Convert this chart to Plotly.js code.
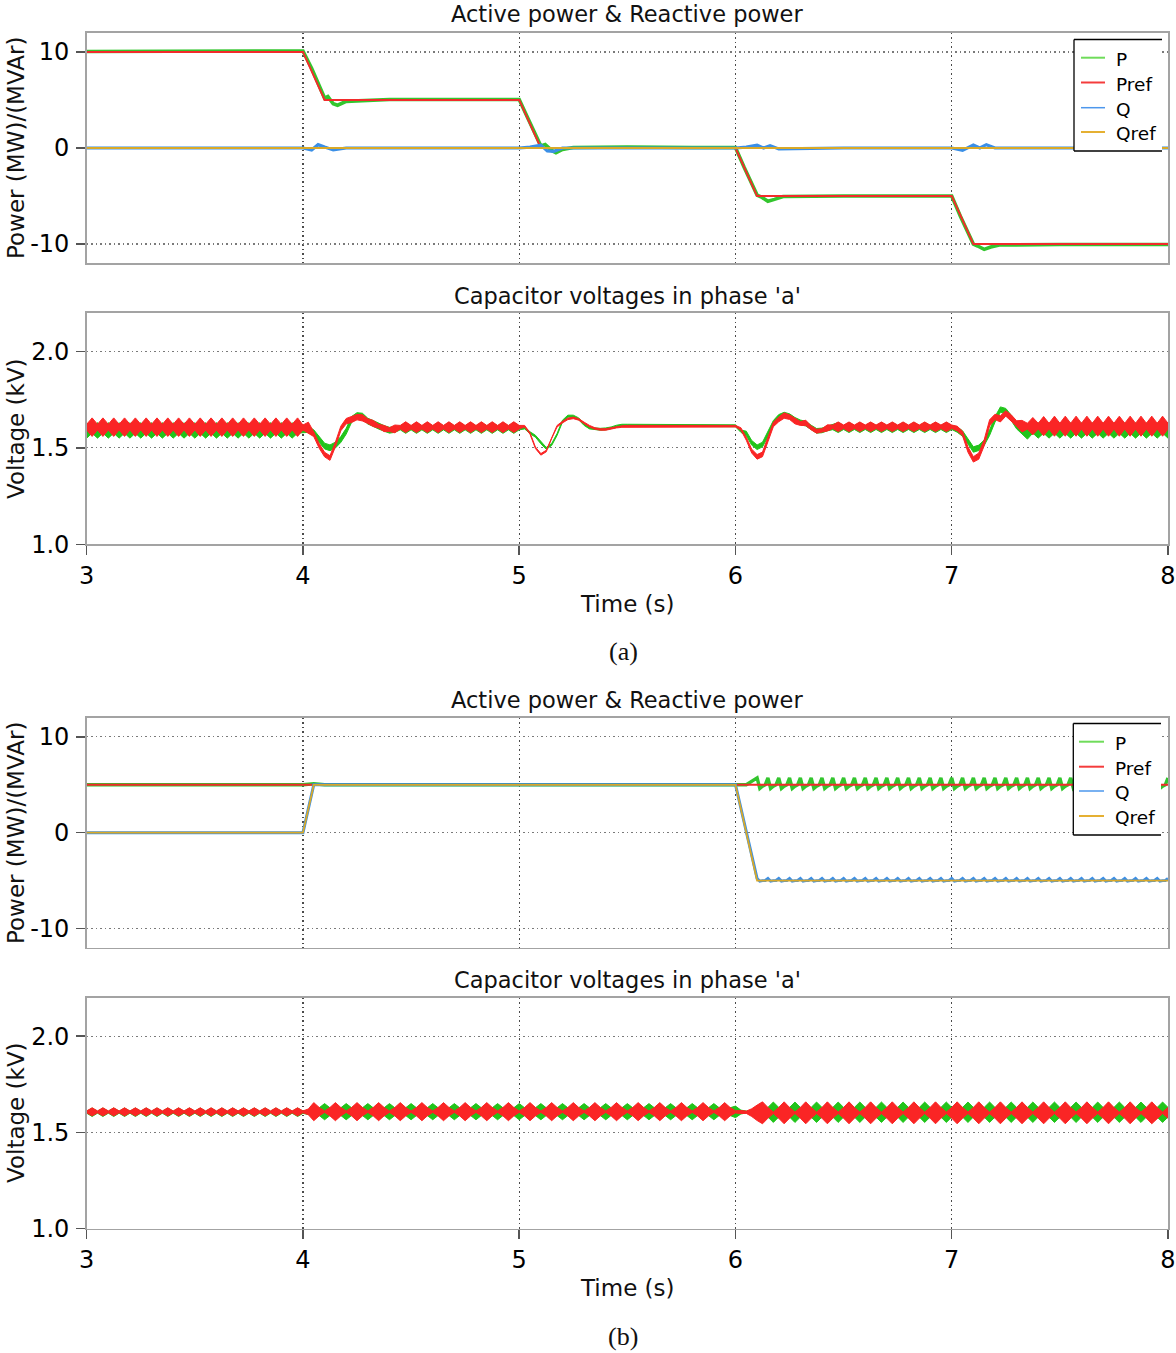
<!DOCTYPE html>
<html><head><meta charset="utf-8">
<script src="https://cdn.plot.ly/plotly-3.0.1.min.js"></script>
<style>html,body{margin:0;padding:0;background:#fff}#chart{width:1176px;height:1353px}</style>
</head><body><div id="chart"></div>
<script>
// ---------------- DATA ----------------
// (a) Active / reactive power
const T_PREF_A = [3, 4, 4.1, 5, 5.1, 6, 6.1, 7, 7.1, 8];
const PREF_A   = [10, 10, 5, 5, 0, 0, -5, -5, -10, -10];
const T_P_A = [3.0,3.5,3.95,4.0,4.04,4.08,4.1,4.115,4.14,4.16,4.2,4.4,4.7,5.0,5.04,5.08,5.1,5.12,5.15,5.17,5.2,5.25,5.5,5.8,6.0,6.04,6.08,6.1,6.12,6.15,6.18,6.22,6.5,6.8,7.0,7.04,7.08,7.1,7.12,7.15,7.18,7.22,7.5,7.8,8.0];
const P_A   = [10.05,10.05,10.05,10.1,8.3,6.2,5.2,5.35,4.6,4.45,4.85,5.05,5.05,5.05,3.1,1.1,0.2,0.35,-0.25,-0.5,-0.15,0.05,0.1,0.05,0.05,-2.0,-4.0,-4.9,-5.1,-5.55,-5.35,-5.05,-5.0,-5.0,-5.0,-7.1,-9.1,-10.0,-10.2,-10.55,-10.3,-10.1,-10.05,-10.05,-10.05];
const T_Q_A = [3.0,3.9,4.0,4.04,4.07,4.1,4.14,4.2,4.5,5.0,5.05,5.1,5.13,5.16,5.2,5.5,6.0,6.05,6.1,6.13,6.16,6.2,6.5,7.0,7.05,7.1,7.13,7.16,7.2,7.5,8.0];
const Q_A   = [0,0,0,-0.2,0.35,0.1,-0.2,0,0,0,0.1,0.3,-0.3,-0.35,0,0,0,0.1,0.3,0,0.25,-0.1,0,0,-0.25,0.3,0,0.35,0,0,0];
const T_QREF_A = [3, 8];
const QREF_A   = [0, 0];

// (b) Active / reactive power
const T_PREF_B = [3, 8];
const PREF_B   = [5, 5];
const T_P_B1 = [3.0, 4.0, 4.05, 4.1, 6.0, 6.05];
const P_B1   = [5.0, 5.0, 5.1, 5.0, 5.0, 5.0];
// P after 6.1 s, sampled every 12.5 ms (ripple spikes)
const P_B2 = [
5.72,4.62,4.85,5.0, 5.72,4.62,4.85,5.0, 5.72,4.62,4.85,5.0, 5.72,4.62,4.85,5.0,
5.72,4.62,4.85,5.0, 5.72,4.62,4.85,5.0, 5.72,4.62,4.85,5.0, 5.72,4.62,4.85,5.0,
5.72,4.62,4.85,5.0, 5.72,4.62,4.85,5.0, 5.72,4.62,4.85,5.0, 5.72,4.62,4.85,5.0,
5.72,4.62,4.85,5.0, 5.72,4.62,4.85,5.0, 5.72,4.62,4.85,5.0, 5.72,4.62,4.85,5.0,
5.72,4.62,4.85,5.0, 5.72,4.62,4.85,5.0, 5.72,4.62,4.85,5.0, 5.72,4.62,4.85,5.0,
5.72,4.62,4.85,5.0, 5.72,4.62,4.85,5.0, 5.72,4.62,4.85,5.0, 5.72,4.62,4.85,5.0,
5.72,4.62,4.85,5.0, 5.72,4.62,4.85,5.0, 5.72,4.62,4.85,5.0, 5.72,4.62,4.85,5.0,
5.72,4.62,4.85,5.0, 5.72,4.62,4.85,5.0, 5.72,4.62,4.85,5.0, 5.72,4.62,4.85,5.0,
5.72,4.62,4.85,5.0, 5.72,4.62,4.85,5.0, 5.72,4.62,4.85,5.0, 5.72,4.62,4.85,5.0,
5.72,4.62,4.85,5.0, 5.72,4.62,4.85,5.0, 5.72];
const T_Q_B1 = [3.0, 4.0, 4.05, 4.1, 6.0];
const Q_B1   = [0, 0, 5.0, 5.0, 5.0];
const Q_B2 = [
-4.78,-5.06,-5.0,-4.98, -4.78,-5.06,-5.0,-4.98, -4.78,-5.06,-5.0,-4.98, -4.78,-5.06,-5.0,-4.98,
-4.78,-5.06,-5.0,-4.98, -4.78,-5.06,-5.0,-4.98, -4.78,-5.06,-5.0,-4.98, -4.78,-5.06,-5.0,-4.98,
-4.78,-5.06,-5.0,-4.98, -4.78,-5.06,-5.0,-4.98, -4.78,-5.06,-5.0,-4.98, -4.78,-5.06,-5.0,-4.98,
-4.78,-5.06,-5.0,-4.98, -4.78,-5.06,-5.0,-4.98, -4.78,-5.06,-5.0,-4.98, -4.78,-5.06,-5.0,-4.98,
-4.78,-5.06,-5.0,-4.98, -4.78,-5.06,-5.0,-4.98, -4.78,-5.06,-5.0,-4.98, -4.78,-5.06,-5.0,-4.98,
-4.78,-5.06,-5.0,-4.98, -4.78,-5.06,-5.0,-4.98, -4.78,-5.06,-5.0,-4.98, -4.78,-5.06,-5.0,-4.98,
-4.78,-5.06,-5.0,-4.98, -4.78,-5.06,-5.0,-4.98, -4.78,-5.06,-5.0,-4.98, -4.78,-5.06,-5.0,-4.98,
-4.78,-5.06,-5.0,-4.98, -4.78,-5.06,-5.0,-4.98, -4.78,-5.06,-5.0,-4.98, -4.78,-5.06,-5.0,-4.98,
-4.78,-5.06,-5.0,-4.98, -4.78,-5.06,-5.0,-4.98, -4.78,-5.06,-5.0,-4.98, -4.78,-5.06,-5.0,-4.98,
-4.78,-5.06,-5.0,-4.98, -4.78,-5.06,-5.0,-4.98, -4.78];
const T_QREF_B = [3, 4, 4.05, 6, 6.1, 8];
const QREF_B   = [0, 0, 5, 5, -5, -5];

// Capacitor voltages, sampled every 25 ms from 3 s to 8 s: centre and half-width of each band
const VA_RED_C = [
1.607,1.607,1.607,1.607,1.607,1.607,1.607,1.607,1.607,1.607,
1.607,1.607,1.607,1.607,1.607,1.607,1.607,1.607,1.607,1.607,
1.607,1.607,1.607,1.607,1.607,1.607,1.607,1.607,1.607,1.607,
1.607,1.607,1.607,1.607,1.607,1.607,1.607,1.607,1.607,1.607,
1.605,1.603,1.57,1.51,1.465,1.447,1.517,1.60,1.638,1.647,1.659,1.655,1.638,1.626,1.612,1.60,1.594,1.598,
1.607,1.607,1.607,1.607,1.607,1.607,1.607,1.607,1.607,1.607,
1.607,1.607,1.607,1.607,1.607,1.607,1.607,1.607,1.607,1.607,1.607,1.607,1.607,
1.612,1.574,1.50,1.466,1.483,1.552,1.612,1.633,1.65,1.655,1.647,1.629,1.612,1.60,1.595,1.595,1.60,1.607,1.61,
1.612,1.612,1.612,1.612,1.612,1.612,1.612,1.612,1.612,1.612,
1.612,1.612,1.612,1.612,1.612,1.612,1.612,1.612,1.612,1.612,1.612,
1.598,1.547,1.483,1.453,1.466,1.543,1.621,1.647,1.667,1.659,1.638,1.626,1.629,1.603,1.586,1.591,1.603,1.609,
1.609,1.609,1.609,1.609,1.609,1.609,1.609,1.609,1.609,1.609,1.609,
1.609,1.609,1.609,1.609,1.609,1.609,1.609,1.609,1.609,1.609,1.609,
1.60,1.574,1.491,1.44,1.457,1.526,1.629,1.66,1.65,1.678,1.655,1.626,1.612,1.612,
1.612,1.612,1.612,1.612,1.612,1.612,1.612,1.612,1.612,1.612,1.612,1.612,1.612,
1.612,1.612,1.612,1.612,1.612,1.612,1.612,1.612,1.612,1.612,1.612,1.612,1.612];
const VA_RED_H = [
0.015,0.048,0.015,0.048,0.015,0.048,0.015,0.048,0.015,0.048,
0.015,0.048,0.015,0.048,0.015,0.048,0.015,0.048,0.015,0.048,
0.015,0.048,0.015,0.048,0.015,0.048,0.015,0.048,0.015,0.048,
0.015,0.048,0.015,0.048,0.015,0.048,0.015,0.048,0.015,0.048,
0.013,0.03,0.012,0.012,0.012,0.012,0.012,0.012,0.014,0.016,0.014,0.016,0.012,0.016,0.01,0.016,0.01,0.02,
0.009,0.028,0.009,0.028,0.009,0.028,0.009,0.028,0.009,0.028,
0.009,0.028,0.009,0.028,0.009,0.028,0.009,0.028,0.009,0.028,0.009,0.028,0.009,
0.004,0.004,0.004,0.004,0.004,0.004,0.004,0.004,0.004,0.004,
0.004,0.004,0.004,0.004,0.004,0.004,0.004,0.004,0.004,0.004,
0.004,0.004,0.004,0.004,0.004,0.004,0.004,0.004,0.004,0.004,
0.004,0.004,0.004,0.004,0.004,0.004,0.004,0.004,0.004,0.004,
0.006,0.008,0.01,0.012,0.012,0.012,0.012,0.012,0.014,0.012,0.014,0.01,0.014,0.01,0.01,0.008,0.016,0.009,
0.025,0.009,0.025,0.009,0.025,0.009,0.025,0.009,0.025,0.009,0.025,
0.009,0.025,0.009,0.025,0.009,0.025,0.009,0.025,0.009,0.025,0.009,
0.012,0.012,0.014,0.014,0.016,0.016,0.016,0.014,0.016,0.014,0.016,0.014,0.03,0.015,
0.045,0.015,0.05,0.015,0.052,0.015,0.052,0.015,0.052,0.015,0.052,0.015,0.052,
0.015,0.052,0.015,0.052,0.015,0.052,0.015,0.052,0.015,0.052,0.015,0.052,0.015];
const VA_GRN_C = [
1.59,1.59,1.59,1.59,1.59,1.59,1.59,1.59,1.59,1.59,
1.59,1.59,1.59,1.59,1.59,1.59,1.59,1.59,1.59,1.59,
1.59,1.59,1.59,1.59,1.59,1.59,1.59,1.59,1.59,1.59,
1.59,1.59,1.59,1.59,1.59,1.59,1.59,1.59,1.59,1.59,
1.598,1.595,1.578,1.543,1.509,1.50,1.514,1.543,1.586,1.647,1.667,1.664,1.638,1.626,1.612,1.60,1.591,1.595,
1.603,1.603,1.603,1.603,1.603,1.603,1.603,1.603,1.603,1.603,
1.603,1.603,1.603,1.603,1.603,1.603,1.603,1.603,1.603,1.603,1.603,1.603,1.603,
1.603,1.578,1.56,1.526,1.497,1.517,1.569,1.638,1.664,1.664,1.65,1.621,1.603,1.598,1.596,1.598,1.603,1.612,1.617,1.617,1.617,
1.614,1.614,1.614,1.614,1.614,1.614,1.614,1.614,1.614,1.614,
1.614,1.614,1.614,1.614,1.614,1.614,1.614,1.614,1.614,
1.586,1.574,1.526,1.503,1.517,1.569,1.629,1.66,1.672,1.664,1.645,1.632,1.625,1.605,1.588,1.59,1.60,1.606,
1.605,1.605,1.605,1.605,1.605,1.605,1.605,1.605,1.605,1.605,1.605,
1.605,1.605,1.605,1.605,1.605,1.605,1.605,1.605,1.605,1.605,1.605,
1.595,1.574,1.534,1.491,1.50,1.526,1.578,1.647,1.698,1.69,1.655,1.612,1.586,1.575,
1.59,1.59,1.59,1.59,1.59,1.59,1.59,1.59,1.59,1.59,1.59,1.59,1.59,
1.59,1.59,1.59,1.59,1.59,1.59,1.59,1.59,1.59,1.59,1.59,1.59,1.59];
const VA_GRN_H = [
0.04,0.014,0.04,0.014,0.04,0.014,0.04,0.014,0.04,0.014,
0.04,0.014,0.04,0.014,0.04,0.014,0.04,0.014,0.04,0.014,
0.04,0.014,0.04,0.014,0.04,0.014,0.04,0.014,0.04,0.014,
0.04,0.014,0.04,0.014,0.04,0.014,0.04,0.014,0.04,0.014,
0.02,0.015,0.015,0.015,0.015,0.015,0.015,0.015,0.015,0.015,0.015,0.015,0.015,0.015,0.015,0.015,0.015,0.015,
0.01,0.028,0.01,0.028,0.01,0.028,0.01,0.028,0.01,0.028,
0.01,0.028,0.01,0.028,0.01,0.028,0.01,0.028,0.01,0.028,0.01,0.028,0.01,
0.005,0.005,0.005,0.005,0.005,0.005,0.005,0.005,0.005,0.005,
0.005,0.005,0.005,0.005,0.005,0.005,0.005,0.005,0.005,0.005,
0.005,0.005,0.005,0.005,0.005,0.005,0.005,0.005,0.005,0.005,
0.005,0.005,0.005,0.005,0.005,0.005,0.005,0.005,0.005,0.005,
0.006,0.012,0.012,0.012,0.012,0.012,0.012,0.012,0.012,0.012,0.012,0.012,0.012,0.012,0.012,0.012,0.012,0.012,
0.026,0.01,0.026,0.01,0.026,0.01,0.026,0.01,0.026,0.01,0.026,
0.01,0.026,0.01,0.026,0.01,0.026,0.01,0.026,0.01,0.026,0.01,
0.014,0.014,0.014,0.014,0.014,0.014,0.014,0.014,0.014,0.014,0.014,0.014,0.014,0.03,
0.014,0.04,0.014,0.04,0.014,0.04,0.014,0.04,0.014,0.04,0.014,0.04,0.014,
0.04,0.014,0.04,0.014,0.04,0.014,0.04,0.014,0.04,0.014,0.04,0.014,0.04];

const VB_RED_C = [
1.607,1.607,1.607,1.607,1.607,1.607,1.607,1.607,1.607,1.607,
1.607,1.607,1.607,1.607,1.607,1.607,1.607,1.607,1.607,1.607,
1.607,1.607,1.607,1.607,1.607,1.607,1.607,1.607,1.607,1.607,
1.607,1.607,1.607,1.607,1.607,1.607,1.607,1.607,1.607,1.607,1.607,1.607,
1.608,1.608,1.608,1.608,1.608,1.608,1.608,1.608,1.608,1.608,1.608,1.608,1.608,
1.608,1.608,1.608,1.608,1.608,1.608,1.608,1.608,1.608,1.608,1.608,1.608,1.608,
1.608,1.608,1.608,1.608,1.608,1.608,1.608,1.608,1.608,1.608,1.608,1.608,1.608,
1.608,1.608,1.608,1.608,1.608,1.608,1.608,1.608,1.608,1.608,1.608,1.608,1.608,
1.608,1.608,1.608,1.608,1.608,1.608,1.608,1.608,1.608,1.608,1.608,1.608,1.608,
1.608,1.608,1.608,1.608,1.608,1.608,1.608,1.608,1.608,1.608,1.608,1.608,1.608,
1.607,1.606,1.605,1.603,1.602,
1.602,1.602,1.602,1.602,1.602,1.602,1.602,1.602,1.602,1.602,1.602,1.602,1.602,1.602,1.602,1.602,1.602,1.602,1.602,
1.602,1.602,1.602,1.602,1.602,1.602,1.602,1.602,1.602,1.602,1.602,1.602,1.602,1.602,1.602,1.602,1.602,1.602,1.602,
1.602,1.602,1.602,1.602,1.602,1.602,1.602,1.602,1.602,1.602,1.602,1.602,1.602,1.602,1.602,1.602,1.602,1.602,1.602,
1.602,1.602,1.602,1.602,1.602,1.602,1.602,1.602,1.602,1.602,1.602,1.602,1.602,1.602,1.602,1.602,1.602,1.602,1.602];
const VB_RED_H = [
0.005,0.021,0.005,0.021,0.005,0.021,0.005,0.021,0.005,0.021,
0.005,0.021,0.005,0.021,0.005,0.021,0.005,0.021,0.005,0.021,
0.005,0.021,0.005,0.021,0.005,0.021,0.005,0.021,0.005,0.021,
0.005,0.021,0.005,0.021,0.005,0.021,0.005,0.021,0.005,0.021,
0.005,0.015,
0.047,0.022,0.004,0.022, 0.047,0.022,0.004,0.022, 0.047,0.022,0.004,0.022, 0.047,0.022,0.004,0.022,
0.047,0.022,0.004,0.022, 0.047,0.022,0.004,0.022, 0.047,0.022,0.004,0.022, 0.047,0.022,0.004,0.022,
0.047,0.022,0.004,0.022, 0.047,0.022,0.004,0.022, 0.047,0.022,0.004,0.022, 0.047,0.022,0.004,0.022,
0.047,0.022,0.004,0.022, 0.047,0.022,0.004,0.022, 0.047,0.022,0.004,0.022, 0.047,0.022,0.004,0.022,
0.047,0.022,0.004,0.022, 0.047,0.022,0.004,0.022, 0.047,0.022,0.004,0.022, 0.047,0.022,
0.006,0.008,0.006,0.02,0.04,
0.057,0.028,0.004,0.028, 0.057,0.028,0.004,0.028, 0.057,0.028,0.004,0.028, 0.057,0.028,0.004,0.028,
0.057,0.028,0.004,0.028, 0.057,0.028,0.004,0.028, 0.057,0.028,0.004,0.028, 0.057,0.028,0.004,0.028,
0.057,0.028,0.004,0.028, 0.057,0.028,0.004,0.028, 0.057,0.028,0.004,0.028, 0.057,0.028,0.004,0.028,
0.057,0.028,0.004,0.028, 0.057,0.028,0.004,0.028, 0.057,0.028,0.004,0.028, 0.057,0.028,0.004,0.028,
0.057,0.028,0.004,0.028, 0.057,0.028,0.004,0.028, 0.057,0.028,0.004,0.028];
const VB_GRN_C = [
1.605,1.605,1.605,1.605,1.605,1.605,1.605,1.605,1.605,1.605,
1.605,1.605,1.605,1.605,1.605,1.605,1.605,1.605,1.605,1.605,
1.605,1.605,1.605,1.605,1.605,1.605,1.605,1.605,1.605,1.605,
1.605,1.605,1.605,1.605,1.605,1.605,1.605,1.605,1.605,1.605,1.605,1.605,
1.608,1.608,1.608,1.608,1.608,1.608,1.608,1.608,1.608,1.608,1.608,1.608,1.608,
1.608,1.608,1.608,1.608,1.608,1.608,1.608,1.608,1.608,1.608,1.608,1.608,1.608,
1.608,1.608,1.608,1.608,1.608,1.608,1.608,1.608,1.608,1.608,1.608,1.608,1.608,
1.608,1.608,1.608,1.608,1.608,1.608,1.608,1.608,1.608,1.608,1.608,1.608,1.608,
1.608,1.608,1.608,1.608,1.608,1.608,1.608,1.608,1.608,1.608,1.608,1.608,1.608,
1.608,1.608,1.608,1.608,1.608,1.608,1.608,1.608,1.608,1.608,1.608,1.608,1.608,
1.607,1.606,1.606,1.606,1.606,
1.605,1.605,1.605,1.605,1.605,1.605,1.605,1.605,1.605,1.605,1.605,1.605,1.605,1.605,1.605,1.605,1.605,1.605,1.605,
1.605,1.605,1.605,1.605,1.605,1.605,1.605,1.605,1.605,1.605,1.605,1.605,1.605,1.605,1.605,1.605,1.605,1.605,1.605,
1.605,1.605,1.605,1.605,1.605,1.605,1.605,1.605,1.605,1.605,1.605,1.605,1.605,1.605,1.605,1.605,1.605,1.605,1.605,
1.605,1.605,1.605,1.605,1.605,1.605,1.605,1.605,1.605,1.605,1.605,1.605,1.605,1.605,1.605,1.605,1.605,1.605,1.605];
const VB_GRN_H = [
0.005,0.022,0.005,0.022,0.005,0.022,0.005,0.022,0.005,0.022,
0.005,0.022,0.005,0.022,0.005,0.022,0.005,0.022,0.005,0.022,
0.005,0.022,0.005,0.022,0.005,0.022,0.005,0.022,0.005,0.022,
0.005,0.022,0.005,0.022,0.005,0.022,0.005,0.022,0.005,0.022,
0.006,0.012,
0.004,0.02,0.042,0.02, 0.004,0.02,0.042,0.02, 0.004,0.02,0.042,0.02, 0.004,0.02,0.042,0.02,
0.004,0.02,0.042,0.02, 0.004,0.02,0.042,0.02, 0.004,0.02,0.042,0.02, 0.004,0.02,0.042,0.02,
0.004,0.02,0.042,0.02, 0.004,0.02,0.042,0.02, 0.004,0.02,0.042,0.02, 0.004,0.02,0.042,0.02,
0.004,0.02,0.042,0.02, 0.004,0.02,0.042,0.02, 0.004,0.02,0.042,0.02, 0.004,0.02,0.042,0.02,
0.004,0.02,0.042,0.02, 0.004,0.02,0.042,0.02, 0.004,0.02,0.042,0.02, 0.004,0.02,
0.03,0.01,0.005,0.005,0.012,
0.004,0.025,0.053,0.025, 0.004,0.025,0.053,0.025, 0.004,0.025,0.053,0.025, 0.004,0.025,0.053,0.025,
0.004,0.025,0.053,0.025, 0.004,0.025,0.053,0.025, 0.004,0.025,0.053,0.025, 0.004,0.025,0.053,0.025,
0.004,0.025,0.053,0.025, 0.004,0.025,0.053,0.025, 0.004,0.025,0.053,0.025, 0.004,0.025,0.053,0.025,
0.004,0.025,0.053,0.025, 0.004,0.025,0.053,0.025, 0.004,0.025,0.053,0.025, 0.004,0.025,0.053,0.025,
0.004,0.025,0.053,0.025, 0.004,0.025,0.053,0.025, 0.004,0.025,0.053,0.025];

const X_TICKS = [3, 4, 5, 6, 7, 8];
const P_TICKS = [-10, 0, 10];
const P_TICK_TEXT = ['-10', '0', '10'];
const V_TICKS = [1.0, 1.5, 2.0];
const V_TICK_TEXT = ['1.0', '1.5', '2.0'];
const SERIES = ['P', 'Pref', 'Q', 'Qref'];

// ---------------- sample-time bases ----------------
function timeBase(a, n, step) { const r = []; for (let k = 0; k < n; k++) r.push(+(a + k * step).toFixed(4)); return r; }
const T_V = timeBase(3, 201, 0.025);
const T_SPIKE = timeBase(6.1, P_B2.length, 0.0125);

// ---------------- style ----------------
const W = 1176, H = 1353;
const FONT = 'DejaVu Sans';
const C = { P: '#33c52e', Pref: '#f22b2b', Q: '#3b8fe6', Qref: '#d9a928', VG: '#21c41b', VR: '#fa2525' };
const LEG = { P: '#6fdc5a', Pref: '#f43c3c', Q: '#4d97ec', Qref: '#e5b032' };
const px = v => v / W, py = v => 1 - v / H;

function line(x, y, color, width, xa, ya) {
  return { x, y, mode: 'lines', line: { color, width }, xaxis: xa, yaxis: ya, hoverinfo: 'skip' };
}
function band(t, c, h, color, xa, ya) {
  const up = c.map((v, i) => v + h[i]);
  const lo = c.map((v, i) => v - h[i]);
  return { x: t.concat(t.slice().reverse()), y: up.concat(lo.slice().reverse()),
    mode: 'lines', fill: 'toself', fillcolor: color, line: { color, width: 1 },
    xaxis: xa, yaxis: ya, hoverinfo: 'skip' };
}

const traces = [
  line(T_P_A, P_A, C.P, 3.6, 'x', 'y'),
  line(T_PREF_A, PREF_A, C.Pref, 2, 'x', 'y'),
  line(T_Q_A, Q_A, C.Q, 3.2, 'x', 'y'),
  line(T_QREF_A, QREF_A, C.Qref, 1.8, 'x', 'y'),
  band(T_V, VA_GRN_C, VA_GRN_H, C.VG, 'x2', 'y2'),
  band(T_V, VA_RED_C, VA_RED_H, C.VR, 'x2', 'y2'),
  line(T_P_B1.concat(T_SPIKE), P_B1.concat(P_B2), C.P, 3.4, 'x3', 'y3'),
  line(T_PREF_B, PREF_B, C.Pref, 2, 'x3', 'y3'),
  line(T_Q_B1.concat(T_SPIKE), Q_B1.concat(Q_B2), C.Q, 3, 'x3', 'y3'),
  line(T_QREF_B, QREF_B, C.Qref, 1.8, 'x3', 'y3'),
  band(T_V, VB_GRN_C, VB_GRN_H, C.VG, 'x4', 'y4'),
  band(T_V, VB_RED_C, VB_RED_H, C.VR, 'x4', 'y4')
];

const xDom = [86.7 / W, 1168 / W];
const panels = [[32.7, 263.3], [312.7, 544.3], [717.7, 947.7], [997.7, 1228.7]];
const tickFont = { family: FONT, size: 24, color: '#000' };
const DOTS = '1.5px,3px';
function xAxis(i, labels) {
  const a = { domain: xDom, range: [3, 8], anchor: 'y' + (i === 1 ? '' : i), tickmode: 'array', tickvals: X_TICKS,
    showline: true, mirror: true, linecolor: '#a3a3a3', linewidth: 1.5,
    showgrid: true, gridcolor: '#4a4a4a', griddash: DOTS, gridwidth: 1.2, zeroline: false,
    tickfont: tickFont, fixedrange: true };
  if (labels) { a.ticks = 'outside'; a.ticklen = 9; a.tickwidth = 1.5; a.tickcolor = '#555'; a.showticklabels = true; a.ticklabelstandoff = 0; }
  else { a.ticks = ''; a.showticklabels = false; }
  return a;
}
function yAxis(i, range, vals, text) {
  const d = panels[i - 1];
  return { domain: [1 - d[1] / H, 1 - d[0] / H], range, anchor: 'x' + (i === 1 ? '' : i),
    tickmode: 'array', tickvals: vals, ticktext: text,
    ticks: 'outside', ticklen: 9, tickwidth: 1.5, tickcolor: '#555', ticklabelstandoff: 2,
    showline: true, mirror: true, linecolor: '#a3a3a3', linewidth: 1.5,
    showgrid: true, gridcolor: '#7a7a7a', griddash: DOTS, gridwidth: 1.2, zeroline: false,
    tickfont: tickFont, fixedrange: true };
}

const ann = [];
const shapes = [];
function text(t, x, y, opts) {
  ann.push(Object.assign({ text: t, x: px(x), y: py(y), xref: 'paper', yref: 'paper', showarrow: false,
    xanchor: 'center', yanchor: 'middle', font: { family: FONT, size: 22.5, color: '#111' } }, opts || {}));
}
text('Active power &amp; Reactive power', 627, 14);
text("Capacitor voltages in phase 'a'", 627, 296.5);
text('Active power &amp; Reactive power', 627, 700);
text("Capacitor voltages in phase 'a'", 627, 980);
text('Time (s)', 627, 604, { font: { family: FONT, size: 23, color: '#111' } });
text('Time (s)', 627, 1288, { font: { family: FONT, size: 23, color: '#111' } });
text('(a)', 623, 651, { font: { family: 'Liberation Serif', size: 26, color: '#111' } });
text('(b)', 623, 1336, { font: { family: 'Liberation Serif', size: 26, color: '#111' } });
const yTitleFont = { family: FONT, size: 23, color: '#111' };
text('Power (MW)/(MVAr)', 16, 148, { textangle: -90, font: yTitleFont });
text('Voltage (kV)', 16, 429, { textangle: -90, font: yTitleFont });
text('Power (MW)/(MVAr)', 16, 833, { textangle: -90, font: yTitleFont });
text('Voltage (kV)', 16, 1113, { textangle: -90, font: yTitleFont });

function legend(x0, x1, y0, y1, ys, lx0, lx1, tx) {
  shapes.push({ type: 'rect', xref: 'paper', yref: 'paper', x0: px(x0), x1: px(x1), y0: py(y0), y1: py(y1),
    fillcolor: '#fff', line: { width: 0 }, layer: 'above' });
  const seg = (a, b, c, d) => shapes.push({ type: 'line', xref: 'paper', yref: 'paper', x0: px(a), y0: py(b), x1: px(c), y1: py(d),
    line: { color: '#000', width: 1.3 }, layer: 'above' });
  seg(x0, y0, x1, y0); seg(x0, y1, x1, y1); seg(x0, y0, x0, y1);
  SERIES.forEach((s, k) => {
    shapes.push({ type: 'line', xref: 'paper', yref: 'paper', x0: px(lx0), x1: px(lx1), y0: py(ys[k]), y1: py(ys[k]),
      line: { color: LEG[s], width: s === 'Q' ? 1.5 : 2 }, layer: 'above' });
    text(s, tx, ys[k] + 1.5, { xanchor: 'left', font: { family: FONT, size: 18.5, color: '#000' } });
  });
}
legend(1074, 1162, 39.5, 151, [57.7, 82.5, 107.7, 132], 1081, 1105, 1114);
legend(1073.3, 1161, 723.5, 835, [741.7, 766.7, 791, 816], 1079, 1104, 1113);

const layout = {
  width: W, height: H, margin: { l: 0, r: 0, t: 0, b: 0 }, paper_bgcolor: '#fff', plot_bgcolor: '#fff',
  showlegend: false,
  xaxis: xAxis(1, false), xaxis2: xAxis(2, true), xaxis3: xAxis(3, false), xaxis4: xAxis(4, true),
  yaxis: yAxis(1, [-12, 12], P_TICKS, P_TICK_TEXT),
  yaxis2: yAxis(2, [1.0, 2.2], V_TICKS, V_TICK_TEXT),
  yaxis3: yAxis(3, [-12, 12], P_TICKS, P_TICK_TEXT),
  yaxis4: yAxis(4, [1.0, 2.2], V_TICKS, V_TICK_TEXT),
  annotations: ann, shapes: shapes
};
Plotly.newPlot('chart', traces, layout, { staticPlot: true, displayModeBar: false });
</script></body></html>
